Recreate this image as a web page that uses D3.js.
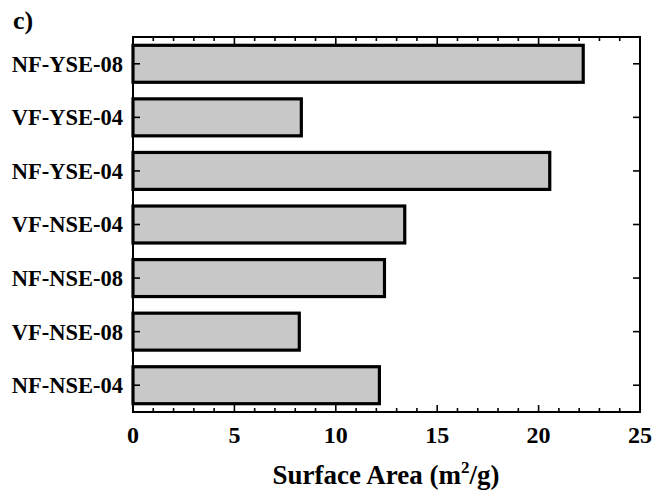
<!DOCTYPE html>
<html>
<head>
<meta charset="utf-8">
<script src="https://cdn.jsdelivr.net/npm/d3@7"></script>
<style>
  body { margin: 0; background: #fff; }
  svg { display: block; }
  text { font-family: "Liberation Serif", "Times New Roman", serif; font-weight: bold; fill: #000; }
</style>
</head>
<body>
<svg id="chart" width="653" height="492"></svg>
<script>
const categories = ['NF-YSE-08', 'VF-YSE-04', 'NF-YSE-04', 'VF-NSE-04', 'NF-NSE-08', 'VF-NSE-08', 'NF-NSE-04']
const surfaceArea = [22.2, 8.3, 20.55, 13.4, 12.4, 8.2, 12.15]
const xTicks = [0, 5, 10, 15, 20, 25]
const xMinorTicks = d3.range(0, 26, 1)

const svg = d3.select('#chart')
const margin = { top: 37, right: 13, bottom: 80, left: 133 }
const width = 653 - margin.left - margin.right
const height = 492 - margin.top - margin.bottom

const x = d3.scaleLinear().domain([0, 25]).range([0, width])
const y = d3.scaleBand().domain(categories).range([0, height]).paddingInner(0.31).paddingOuter(0.155)

const g = svg.append('g').attr('transform', `translate(${margin.left},${margin.top})`)

// bars
g.selectAll('rect.bar')
  .data(categories.map((c, i) => ({ c, v: surfaceArea[i] })))
  .enter()
  .append('rect')
  .attr('class', 'bar')
  .attr('x', x(0))
  .attr('y', (d) => y(d.c))
  .attr('width', (d) => x(d.v) - x(0))
  .attr('height', y.bandwidth())
  .attr('fill', '#c8c8c8')
  .attr('stroke', '#000')
  .attr('stroke-width', 3.2)

// frame
g.append('rect')
  .attr('width', width)
  .attr('height', height)
  .attr('fill', 'none')
  .attr('stroke', '#000')
  .attr('stroke-width', 2)

// x ticks, inward, bottom and top
const tickG = g.append('g').attr('stroke', '#000').attr('stroke-width', 1.6)
xMinorTicks.forEach((t) => {
  const len = t % 5 === 0 ? 7 : 4
  tickG.append('line').attr('x1', x(t)).attr('x2', x(t)).attr('y1', height).attr('y2', height - len)
  tickG.append('line').attr('x1', x(t)).attr('x2', x(t)).attr('y1', 0).attr('y2', len)
})

// y ticks, inward, left and right
categories.forEach((c) => {
  const cy = y(c) + y.bandwidth() / 2
  tickG.append('line').attr('x1', 0).attr('x2', 7).attr('y1', cy).attr('y2', cy)
  tickG.append('line').attr('x1', width).attr('x2', width - 7).attr('y1', cy).attr('y2', cy)
})

// x tick labels
g.selectAll('text.xlab')
  .data(xTicks)
  .enter()
  .append('text')
  .attr('class', 'xlab')
  .attr('x', (d) => x(d))
  .attr('y', height + 31)
  .attr('text-anchor', 'middle')
  .style('font-size', '24px')
  .text((d) => d)

// y tick labels
g.selectAll('text.ylab')
  .data(categories)
  .enter()
  .append('text')
  .attr('class', 'ylab')
  .attr('x', -10)
  .attr('y', (d) => y(d) + y.bandwidth() / 2)
  .attr('dy', '0.35em')
  .attr('text-anchor', 'end')
  .style('font-size', '22.5px')
  .text((d) => d)

// axis title
const title = svg.append('text')
  .attr('x', 386)
  .attr('y', 484)
  .attr('text-anchor', 'middle')
  .style('font-size', '27px')
title.append('tspan').text('Surface Area (m')
title.append('tspan').attr('dy', -11).style('font-size', '17px').text('2')
title.append('tspan').attr('dy', 11).text('/g)')

// panel label
svg.append('text')
  .attr('x', 13)
  .attr('y', 29)
  .style('font-size', '26px')
  .text('c)')
</script>
</body>
</html>
